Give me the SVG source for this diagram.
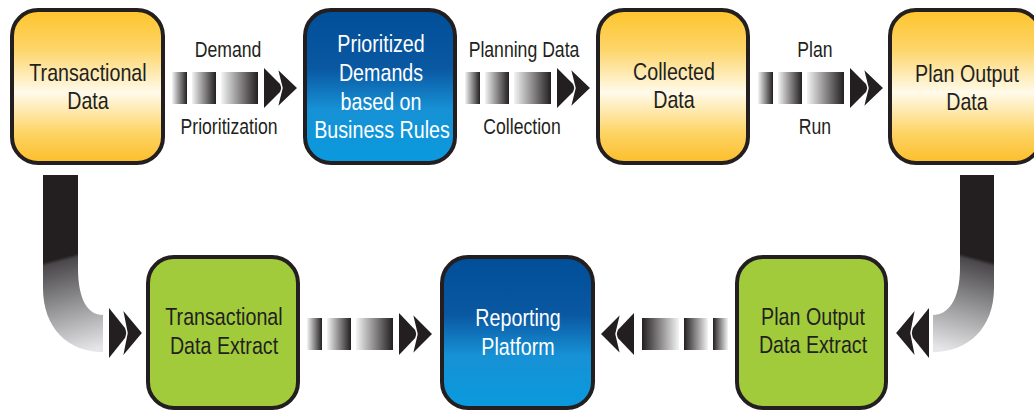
<svg xmlns="http://www.w3.org/2000/svg" width="1034" height="412" viewBox="0 0 1034 412">
  <style>
    .box { stroke: #231f20; stroke-width: 4; }
    .orange { fill: url(#gOrange); }
    .blue { fill: url(#gBlue); }
    .green { fill: #a2cb3b; }
    .nt { font-family: "Liberation Sans", Arial, sans-serif; font-size: 24px; fill: #231f20; text-anchor: middle; }
    .wt { fill: #ffffff; }
    .lbl { font-family: "Liberation Sans", Arial, sans-serif; font-size: 21.5px; fill: #231f20; text-anchor: middle; }
    .blkR { fill: url(#gBlkR); }
    .blkL { fill: url(#gBlkL); }
    .chev { fill: #231f20; }
  </style>
  <defs>
    <linearGradient id="gOrange" x1="0" y1="0" x2="0" y2="1">
      <stop offset="0" stop-color="#fdc42c"/>
      <stop offset="0.25" stop-color="#fdd466"/>
      <stop offset="0.54" stop-color="#fffaea"/>
      <stop offset="0.8" stop-color="#fdd466"/>
      <stop offset="1" stop-color="#fcbe2a"/>
    </linearGradient>
    <linearGradient id="gBlue" x1="0" y1="0" x2="0" y2="1">
      <stop offset="0" stop-color="#004f98"/>
      <stop offset="0.38" stop-color="#0a57a2"/>
      <stop offset="0.65" stop-color="#1791d5"/>
      <stop offset="1" stop-color="#0a9ade"/>
    </linearGradient>
    <linearGradient id="gBlkR" x1="0" y1="0" x2="1" y2="0">
      <stop offset="0" stop-color="#f4f4f4"/>
      <stop offset="1" stop-color="#231f20"/>
    </linearGradient>
    <linearGradient id="gBlkL" x1="1" y1="0" x2="0" y2="0">
      <stop offset="0" stop-color="#f4f4f4"/>
      <stop offset="1" stop-color="#231f20"/>
    </linearGradient>
    <linearGradient id="gPipeL" gradientUnits="userSpaceOnUse" x1="60" y1="258" x2="85" y2="352">
      <stop offset="0" stop-color="#231f20"/>
      <stop offset="0.04" stop-color="#4a484a"/>
      <stop offset="1" stop-color="#e6e6e8"/>
    </linearGradient>
    <linearGradient id="gPipeR" gradientUnits="userSpaceOnUse" x1="977" y1="258" x2="952" y2="352">
      <stop offset="0" stop-color="#231f20"/>
      <stop offset="0.04" stop-color="#4a484a"/>
      <stop offset="1" stop-color="#e6e6e8"/>
    </linearGradient>
    <g id="chev">
      <path class="chev" d="M0,-20 L20,0 L0,20 Z"/>
      <path class="chev" d="M13,-20 L34,0 L13,20 L18,0 Z" stroke="#ffffff" stroke-width="1.5" stroke-linejoin="miter"/>
    </g>
    <g id="blocksR">
      <rect class="blkR" x="0" y="-16" width="15" height="32"/>
      <rect class="blkR" x="20" y="-16" width="24" height="32"/>
      <rect class="blkR" x="49" y="-16" width="37" height="32"/>
    </g>
  </defs>

  <g id="connectors">
    <!-- top row -->
    <use href="#blocksR" transform="translate(172,88)"/>
    <use href="#chev" transform="translate(264,88)"/>
    <use href="#blocksR" transform="translate(465,88)"/>
    <use href="#chev" transform="translate(557,88)"/>
    <use href="#blocksR" transform="translate(758,88)"/>
    <use href="#chev" transform="translate(850,88)"/>
    <text class="lbl" transform="translate(228,57) scale(0.82,1)">Demand</text>
    <text class="lbl" transform="translate(229,134) scale(0.82,1)">Prioritization</text>
    <text class="lbl" transform="translate(524,57) scale(0.82,1)">Planning Data</text>
    <text class="lbl" transform="translate(522,134) scale(0.82,1)">Collection</text>
    <text class="lbl" transform="translate(815,57) scale(0.82,1)">Plan</text>
    <text class="lbl" transform="translate(815,134) scale(0.82,1)">Run</text>
    <!-- left pipe -->
    <path fill="url(#gPipeL)" d="M43,175 L78,175 L78,268 C78,300 88,315 103,315 L103,352 C68,352 43,328 43,288 Z"/>
    <use href="#chev" transform="translate(109,333) scale(1,1.25)"/>
    <!-- right pipe -->
    <path fill="url(#gPipeR)" d="M994,175 L960,175 L960,268 C960,300 948,315 933,315 L933,352 C968,352 994,328 994,288 Z"/>
    <use href="#chev" transform="translate(929,333) scale(-1,1.25)"/>
    <!-- bottom middle -->
    <use href="#blocksR" transform="translate(307,334)"/>
    <use href="#chev" transform="translate(399,334) scale(1,1.05)"/>
    <use href="#blocksR" transform="translate(728,334) scale(-1,1)"/>
    <use href="#chev" transform="translate(634,334) scale(-1,1.05)"/>
  </g>

  <g id="node-transactional-data">
    <rect class="box orange" x="12" y="10" width="151" height="153" rx="26"/>
    <text class="nt" transform="translate(88,81) scale(0.82,1)">Transactional</text>
    <text class="nt" transform="translate(88,109) scale(0.82,1)">Data</text>
  </g>
  <g id="node-prioritized-demands">
    <rect class="box blue" x="305" y="10" width="150" height="153" rx="26"/>
    <text class="nt wt" transform="translate(381,52) scale(0.82,1)">Prioritized</text>
    <text class="nt wt" transform="translate(381,81) scale(0.82,1)">Demands</text>
    <text class="nt wt" transform="translate(381,110) scale(0.82,1)">based on</text>
    <text class="nt wt" transform="translate(382,138) scale(0.82,1)">Business Rules</text>
  </g>
  <g id="node-collected-data">
    <rect class="box orange" x="598" y="10" width="150" height="153" rx="26"/>
    <text class="nt" transform="translate(674,80) scale(0.82,1)">Collected</text>
    <text class="nt" transform="translate(674,108) scale(0.82,1)">Data</text>
  </g>
  <g id="node-plan-output-data">
    <rect class="box orange" x="890" y="10" width="151" height="153" rx="26"/>
    <text class="nt" transform="translate(967,82) scale(0.82,1)">Plan Output</text>
    <text class="nt" transform="translate(967,110) scale(0.82,1)">Data</text>
  </g>
  <g id="node-transactional-data-extract">
    <rect class="box green" x="148" y="257" width="150" height="151" rx="26"/>
    <text class="nt" transform="translate(224,325) scale(0.82,1)">Transactional</text>
    <text class="nt" transform="translate(224,354) scale(0.82,1)">Data Extract</text>
  </g>
  <g id="node-reporting-platform">
    <rect class="box blue" x="442" y="257" width="151" height="151" rx="26"/>
    <text class="nt wt" transform="translate(518,326) scale(0.82,1)">Reporting</text>
    <text class="nt wt" transform="translate(518,355) scale(0.82,1)">Platform</text>
  </g>
  <g id="node-plan-output-data-extract">
    <rect class="box green" x="737" y="257" width="149" height="151" rx="26"/>
    <text class="nt" transform="translate(813,325) scale(0.82,1)">Plan Output</text>
    <text class="nt" transform="translate(813,353) scale(0.82,1)">Data Extract</text>
  </g>
</svg>
